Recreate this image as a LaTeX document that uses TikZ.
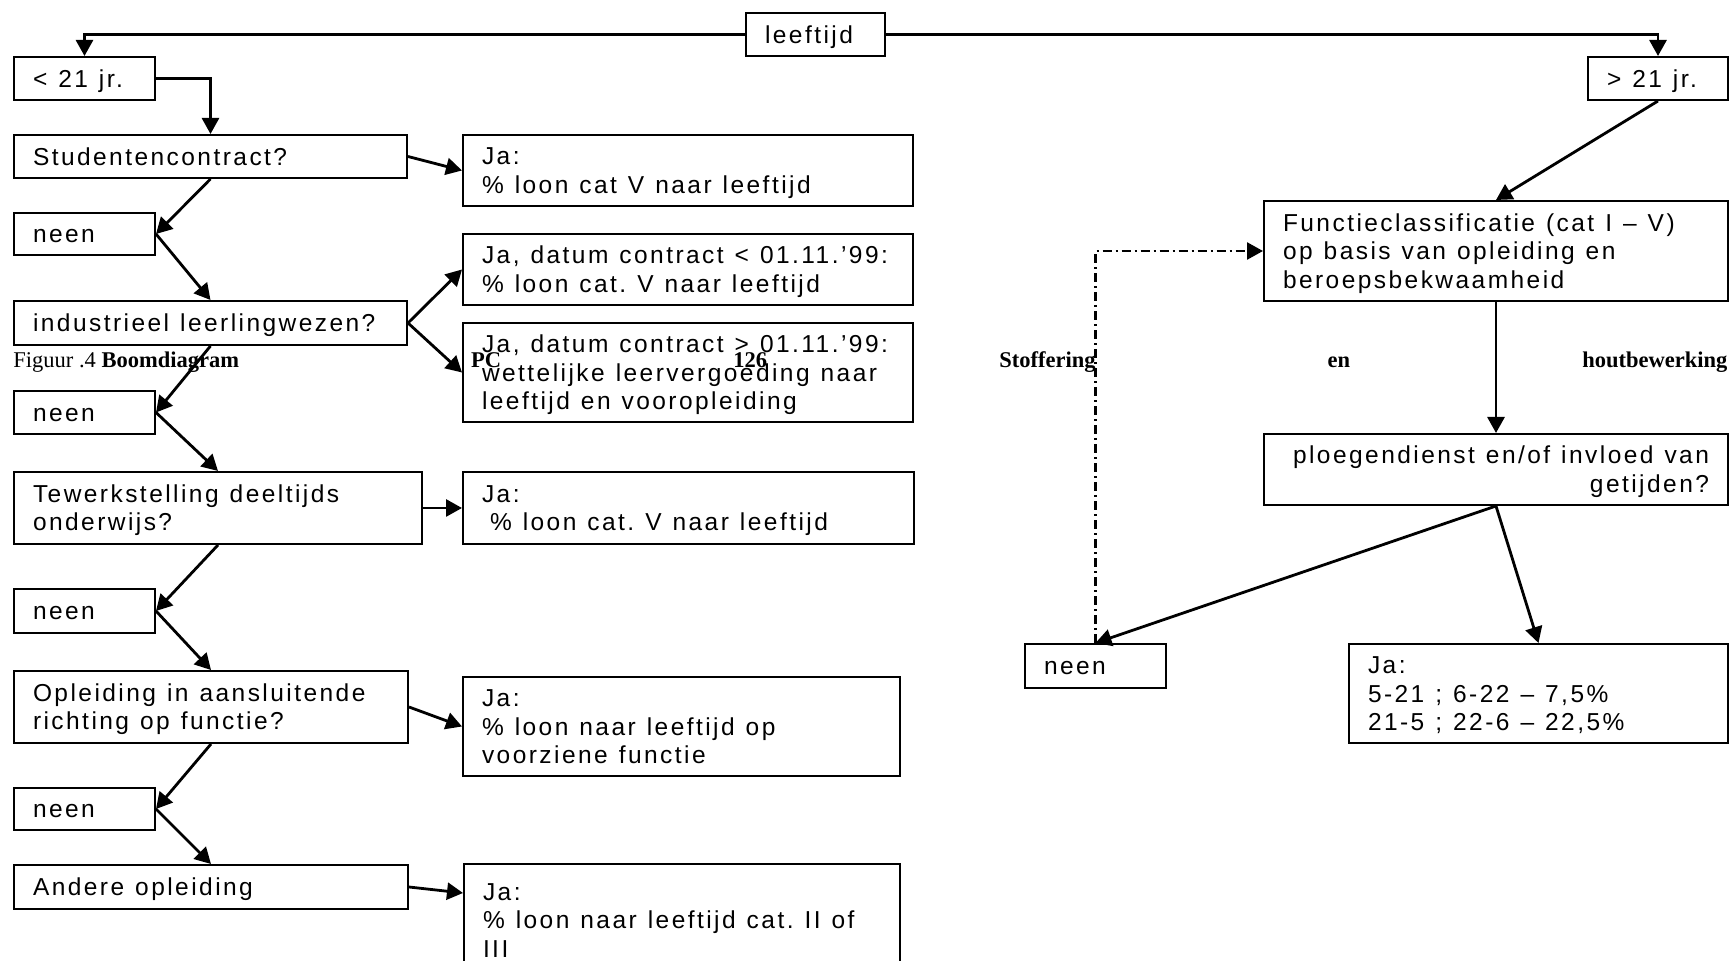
\documentclass[tikz,border=0pt]{standalone}
\usepackage{fontspec}
\setmainfont{Liberation Sans}[LetterSpace=10]
\newfontfamily\capfont{Liberation Serif}
\usetikzlibrary{arrows.meta,positioning}
\newcommand\boxfont{\fontsize{12.25pt}{14.25pt}\selectfont\frenchspacing}

\begin{document}
\begin{tikzpicture}[x=0.5pt,y=-0.5pt,
    qbox/.style={draw,line width=1pt,anchor=north west,inner xsep=9.5pt,inner ysep=0pt,align=left,font=\boxfont,
        execute at begin node={\spaceskip=5.5pt\xspaceskip=5.5pt\rule[-3.7pt]{0pt}{16.15pt}},
        execute at end node={\rule[-3.7pt]{0pt}{3.7pt}}},
    conn/.style={line width=1.4pt,-{Triangle[length=8pt,width=8.5pt]}},
    dotconn/.style={line width=1.25pt,dash pattern=on 4.5pt off 2pt on 1pt off 2pt,-{Triangle[length=8pt,width=8.5pt]}}]
    \useasboundingbox (0,0) rectangle (1731,961);
    \clip (0,0) rectangle (1731,961);
                % top
                \node[qbox,text width=50.5pt,minimum height=21.5pt](leeftijd) at (745,12){leeftijd};
                \node[qbox,text width=51.5pt,minimum height=21.5pt](lt21) at (13,56){\mbox{< 21 jr.}};
                \node[qbox,text width=51pt,minimum height=21.5pt](gt21) at (1587,56){\mbox{> 21 jr.}};
                % left column
                \node[qbox,text width=177.5pt,minimum height=21.5pt](stud) at (13,134){Studentencontract?};
                \node[qbox,text width=206pt,minimum height=35.5pt](ja1) at (462,134){Ja:\\ \% loon cat V naar leeftijd};
                \node[qbox,text width=51.5pt,minimum height=21pt](neen1) at (13,212){neen};
                \node[qbox,text width=177.5pt,minimum height=22pt](ind) at (13,300){industrieel leerlingwezen?};
                \node[qbox,text width=206pt,minimum height=35.5pt](jaA) at (462,233){\mbox{Ja, datum contract < 01.11.’99:}\\ \% loon cat. V naar leeftijd};
                \node[qbox,text width=206pt,minimum height=49.5pt](jaB) at (462,322){\mbox{Ja, datum contract > 01.11.’99:}\\ wettelijke leervergoeding naar\\ leeftijd en vooropleiding};
                \node[qbox,text width=51.5pt,minimum height=21.5pt](neen2) at (13,390){neen};
                \node[qbox,text width=185pt,minimum height=36pt](tew) at (13,471){Tewerkstelling deeltijds\\ onderwijs?};
                \node[qbox,text width=206.5pt,minimum height=36pt](ja3) at (462,471){Ja:\\ \hspace*{4pt}\% loon cat. V naar leeftijd};
                \node[qbox,text width=51.5pt,minimum height=22pt](neen3) at (13,588){neen};
                \node[qbox,text width=178pt,minimum height=36pt](opl) at (13,670){Opleiding in aansluitende\\ richting op functie?};
                \node[qbox,text width=199.5pt,minimum height=49.5pt](ja4) at (462,676){Ja:\\ \% loon naar leeftijd op\\ voorziene functie};
                \node[qbox,text width=51.5pt,minimum height=21pt](neen4) at (13,787){neen};
                \node[qbox,text width=178pt,minimum height=22pt](andere) at (13,864){Andere opleiding};
                \node[qbox,text width=199pt,minimum height=56pt](ja5) at (463,863){Ja:\\ \mbox{\% loon naar leeftijd cat. II of}\\ III};
                % right column
                \node[qbox,text width=213pt,minimum height=50pt](func) at (1263,200){\mbox{Functieclassificatie (cat I – V)}\\ op basis van opleiding en\\ beroepsbekwaamheid};
                \node[qbox,text width=213pt,minimum height=35.5pt,align=right](plg) at (1263,433){\mbox{ploegendienst en/of invloed van}\\ getijden?};
                \node[qbox,text width=51.5pt,minimum height=22pt](neenR) at (1024,643){neen};
                \node[qbox,text width=170.5pt,minimum height=49.5pt](jaR) at (1348,643){Ja:\\ 5-21 ; 6-22 – 7,5\%\\ 21-5 ; 22-6 – 22,5\%};
                % caption line
                \node[anchor=base west,inner sep=0pt,font=\capfont\fontsize{11.25pt}{13pt}\selectfont](cap) at (13,368){\makebox[857pt][l]{Figuur .4 \textbf{Boomdiagram}\hfill\textbf{PC}\hfill\textbf{126}\hfill\textbf{Stoffering}\hfill\textbf{en}\hfill\textbf{houtbewerking}}};
                % connectors
                \draw[conn] (leeftijd.west) -| (lt21.north);
                \draw[conn] (leeftijd.east) -| (gt21.north);
                \draw[conn] (lt21.east) -| (stud.north);
                \path[conn] (stud.east) edge (ja1.west)
                            (stud.south) edge (neen1.east)
                            (neen1.east) edge (ind.north)
                            (ind.east) edge (jaA.west)
                                       edge (jaB.west)
                            (ind.south) edge (neen2.east)
                            (neen2.east) edge (tew.north)
                            (tew.east) edge (ja3.west)
                            (tew.south) edge (neen3.east)
                            (neen3.east) edge (opl.north)
                            (opl.east) edge (ja4.west)
                            (opl.south) edge (neen4.east)
                            (neen4.east) edge (andere.north)
                            (andere.east) edge ([yshift=-15pt]ja5.north west)
                            (gt21.south) edge (func.north)
                            (func.south) edge (plg.north)
                            (plg.south) edge (neenR.north)
                                        edge (jaR.north);
                \draw[dotconn] (neenR.north) |- (func.west);
\end{tikzpicture}
\end{document}
